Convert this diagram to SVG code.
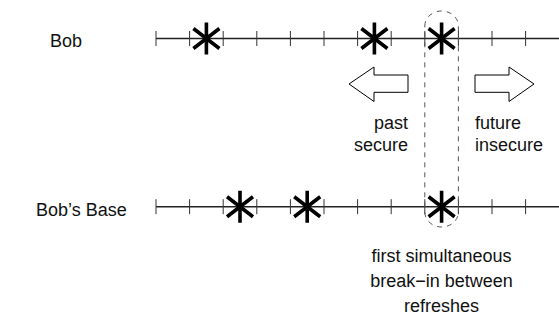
<svg xmlns="http://www.w3.org/2000/svg" width="559" height="324" viewBox="0 0 559 324">
<style>
text{font-family:"Liberation Sans",Arial,sans-serif;font-size:18px;fill:#111}
.line{stroke:#222;stroke-width:1.5;fill:none}
.tick{stroke:#333;stroke-width:1;fill:none}
.star{stroke:#000;stroke-width:3.6;fill:none}
.arrow{stroke:#000;stroke-width:1;fill:#fff}
.dash{stroke:#555;stroke-width:1;fill:none;stroke-dasharray:5 5}
</style>
<defs>
<path id="star" class="star" d="M0,-16V16M-13,-10L13,10M-13,10L13,-10"/>
<path id="ticks" class="tick" d="M156,-7.5v15M189.6,-7.5v15M223.2,-7.5v15M256.8,-7.5v15M290.4,-7.5v15M324,-7.5v15M357.6,-7.5v15M391.2,-7.5v15M424.8,-7.5v15M458.4,-7.5v15M492,-7.5v15M525.6,-7.5v15"/>
</defs>
<g id="bob">
<text x="50" y="47">Bob</text>
<g transform="translate(0,38.5)">
<path class="line" d="M156,0H559"/>
<use href="#ticks"/>
<use href="#star" x="206.4"/>
<use href="#star" x="374.4"/>
<use href="#star" x="441.6"/>
</g>
</g>
<g id="base">
<text x="36" y="216">Bob’s Base</text>
<g transform="translate(0,206.7)">
<path class="line" d="M156,0H559"/>
<use href="#ticks"/>
<use href="#star" x="240"/>
<use href="#star" x="307.2"/>
<use href="#star" x="441.6"/>
</g>
</g>
<g id="highlight">
<path class="dash" d="M424.8,26A16.8,15 0 0 1 458.4,26V212A16.8,15 0 0 1 424.8,212Z"/>
</g>
<g id="past">
<path class="arrow" d="M349,84L374,67V75H408V92.3H374V101.5Z"/>
<text x="408" y="129" text-anchor="end">past</text>
<text x="408" y="151" text-anchor="end">secure</text>
</g>
<g id="future">
<path class="arrow" d="M534,84L509,67V75H475V92.3H509V101.5Z"/>
<text x="475" y="129">future</text>
<text x="475" y="151">insecure</text>
</g>
<g id="caption">
<text x="441.6" y="262" text-anchor="middle">first simultaneous</text>
<text x="441.6" y="287" text-anchor="middle">break−in between</text>
<text x="441.6" y="312" text-anchor="middle">refreshes</text>
</g>
<g id="connectors"></g>
</svg>
